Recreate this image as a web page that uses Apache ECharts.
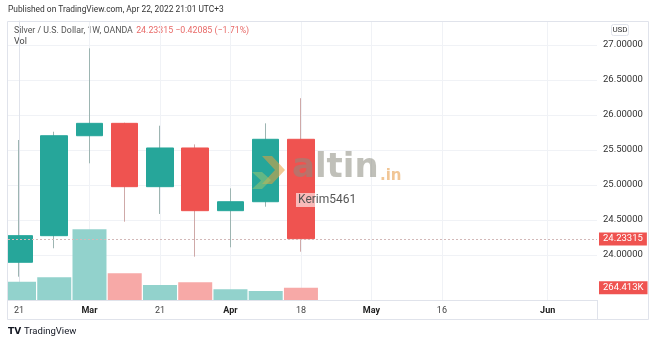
<!DOCTYPE html>
<html><head><meta charset="utf-8">
<script src="https://cdn.jsdelivr.net/npm/echarts@6/dist/echarts.min.js"></script>
<style>html,body{margin:0;padding:0;background:#fff}#c{width:654px;height:342px}</style>
</head><body><div id="c"></div>
<script>
// ---- data ----
const weeks = ['2022-02-21','2022-02-28','2022-03-07','2022-03-14','2022-03-21','2022-03-28','2022-04-04','2022-04-11','2022-04-18'];
const opens  = [23.896, 24.276, 25.704, 25.881, 24.976, 25.529, 24.633, 24.761, 25.653];
const closes = [24.276, 25.704, 25.881, 24.976, 25.529, 24.633, 24.761, 25.653, 24.23315];
const lows   = [23.690, 24.096, 25.310, 24.476, 24.586, 23.976, 24.110, 24.690, 24.047];
const highs  = [25.643, 25.761, 26.953, 25.890, 25.847, 25.580, 24.953, 25.881, 26.240];
const volumes = [393000, 488000, 1520000, 574000, 322000, 381000, 230000, 194000, 264413];
const timeLabelIdx = [0, 2, 4, 6, 8, 10, 12, 15];
const timeLabelText = ['21', 'Mar', '21', 'Apr', '18', 'May', '16', 'Jun'];
const priceTicks = [24, 24.5, 25, 25.5, 26, 26.5, 27];
const lastPrice = 24.23315;
const lastVolume = 264413;
const lastVolumeText = '264.413K';

// ---- colors ----
const UP = '#26a69a', DOWN = '#ef5350';
const UP_VOL = '#92d2cc', DOWN_VOL = '#f7a9a7';
const UP_WICK = '#9db5b2', DOWN_WICK = '#cfa9a8';
const FONT = 'Roboto, "Noto Sans", sans-serif';

const chart = echarts.init(document.getElementById('c'), null, {renderer: 'canvas'});

const wickData = weeks.map((_, i) => [i, opens[i], closes[i], lows[i], highs[i]]);
const bodyData = weeks.map((_, i) => [i, opens[i], closes[i], Math.min(opens[i], closes[i]), Math.max(opens[i], closes[i])]);
const volData = weeks.map((_, i) => ({
  value: [i, volumes[i]],
  itemStyle: {color: closes[i] >= opens[i] ? UP_VOL : DOWN_VOL}
}));

const isMonth = t => /[A-Za-z]/.test(t);

chart.setOption({
  animation: false,
  backgroundColor: '#fff',
  grid: {left: 8, right: 57, top: 21, bottom: 42, containLabel: false},
  xAxis: {
    type: 'value', min: -0.312, max: 16.4,
    axisLine: {show: true, lineStyle: {color: '#e0e3eb'}},
    axisTick: {show: false, customValues: timeLabelIdx},
    splitLine: {show: true, lineStyle: {color: '#f0f2f6', width: 1}},
    axisLabel: {
      customValues: timeLabelIdx, margin: 6,
      formatter: v => {
        const t = timeLabelText[timeLabelIdx.indexOf(Math.round(v))] || '';
        return isMonth(t) ? '{b|' + t + '}' : '{n|' + t + '}';
      },
      rich: {
        b: {fontFamily: FONT, fontSize: 9, fontWeight: 'bold', color: '#222'},
        n: {fontFamily: FONT, fontSize: 9, color: '#444'}
      }
    }
  },
  yAxis: [{
    type: 'value', position: 'right', min: 23.357, max: 27.343,
    axisLine: {show: true, lineStyle: {color: '#e0e3eb'}},
    axisTick: {show: false, customValues: priceTicks},
    splitLine: {show: true, lineStyle: {color: '#f0f2f6'}},
    axisLabel: {customValues: priceTicks, margin: 6, fontFamily: FONT, fontSize: 9.5, color: '#333',
      formatter: v => v.toFixed(5)}
  }, {
    type: 'value', min: 0, max: 6.0e6, show: false, splitLine: {show: false}
  }],
  series: [{
    type: 'bar', yAxisIndex: 1, data: volData, barWidth: 34, z: 1,
    markLine: {
      symbol: 'none', silent: true, animation: false,
      lineStyle: {color: 'rgba(0,0,0,0)', width: 0},
      label: {show: true, position: 'end', distance: 2, formatter: lastVolumeText, backgroundColor: DOWN, color: '#fff',
        fontFamily: FONT, fontSize: 9.5, padding: [2, 4, 1, 4]},
      data: [{yAxis: lastVolume}]
    }
  }, {
    type: 'candlestick', data: wickData, barWidth: 1, z: 2,
    itemStyle: {color: UP_WICK, color0: DOWN_WICK, borderColor: UP_WICK, borderColor0: DOWN_WICK, borderWidth: 1}
  }, {
    type: 'candlestick', data: bodyData, barWidth: 27, z: 3,
    itemStyle: {color: UP, color0: DOWN, borderColor: UP, borderColor0: DOWN, borderWidth: 1},
    markLine: {
      symbol: 'none', silent: true, animation: false,
      lineStyle: {type: [2, 2], color: '#d3b9b9', width: 1},
      label: {position: 'end', distance: 2, formatter: lastPrice.toFixed(5), backgroundColor: DOWN, color: '#fff',
        fontFamily: FONT, fontSize: 9.5, padding: [2, 4, 1, 4]},
      data: [{yAxis: lastPrice}]
    }
  }],
  graphic: [
    // margin left of the pane (hides overflow of the first, partly visible bar)
    {type: 'rect', shape: {x: 0, y: 21, width: 7.5, height: 280}, style: {fill: '#fff'}, silent: true, z: 100},
    // outer frame
    {type: 'rect', shape: {x: 7.5, y: 21.5, width: 641, height: 298}, style: {fill: 'none', stroke: '#e0e3eb', lineWidth: 1}, silent: true, z: 101},
    {type: 'line', shape: {x1: 597.5, y1: 300, x2: 597.5, y2: 319}, style: {stroke: '#e0e3eb', lineWidth: 1}, silent: true},
    // header
    {type: 'text', left: 8, top: 6, style: {text: 'Published on TradingView.com, Apr 22, 2022 21:01 UTC+3', fontFamily: FONT, fontSize: 8.4, fill: '#333'}},
    {type: 'text', left: 14, top: 25, style: {
      text: '{a|Silver / U.S. Dollar, 1W, OANDA} {r|24.23315 \u22120.42085 (\u22121.71%)}',
      rich: {a: {fontFamily: FONT, fontSize: 8.8, fill: '#555'}, r: {fontFamily: FONT, fontSize: 8.8, fill: '#e86a68'}}
    }},
    {type: 'text', left: 14, top: 37, style: {text: 'Vol', fontFamily: FONT, fontSize: 9, fill: '#444'}},
    // USD box
    {type: 'rect', shape: {x: 611.5, y: 24.5, width: 17, height: 11, r: 2}, style: {fill: '#fff', stroke: '#e0e3eb', lineWidth: 1}},
    {type: 'text', x: 620, y: 30, style: {text: 'USD', fontFamily: FONT, fontSize: 8, fill: '#333', align: 'center', verticalAlign: 'middle'}},
    // watermark icon
    {type: 'polygon', shape: {points: [[262, 156], [272, 156], [285, 170], [272, 184], [262, 184], [275, 170]]},
      style: {fill: 'rgba(230,160,60,0.55)'}, silent: true, z: 10},
    {type: 'polygon', shape: {points: [[252, 172], [262, 172], [271, 180], [262, 189], [252, 189], [261, 180.5]]},
      style: {fill: 'rgba(160,200,110,0.5)'}, silent: true, z: 10},
    {type: 'text', x: 292, y: 185, style: {text: 'altin', fontFamily: '"DejaVu Sans", sans-serif', fontWeight: 'bold', fontSize: 34,
      fill: 'rgba(140,140,128,0.55)', verticalAlign: 'bottom'}, silent: true, z: 10},
    {type: 'text', x: 380, y: 184, style: {text: '.in', fontFamily: '"DejaVu Sans", sans-serif', fontWeight: 'bold', fontSize: 15,
      fill: 'rgba(232,160,80,0.6)', verticalAlign: 'bottom'}, silent: true, z: 10},
    {type: 'text', x: 296, y: 200, style: {text: 'Kerim5461', fontFamily: FONT, fontSize: 12, fill: '#555', verticalAlign: 'middle',
      backgroundColor: 'rgba(255,255,255,0.6)', padding: [1, 2]}, silent: true, z: 10},
    // footer logo
    {type: 'text', left: 8, top: 327, style: {text: 'TV', fontFamily: '"DejaVu Sans", sans-serif', fontWeight: 'bold', fontSize: 9, fill: '#131722'}},
    {type: 'text', left: 24, top: 327, style: {text: 'TradingView', fontFamily: FONT, fontSize: 9.5, fill: '#131722'}}
  ]
});
</script>
</body></html>
